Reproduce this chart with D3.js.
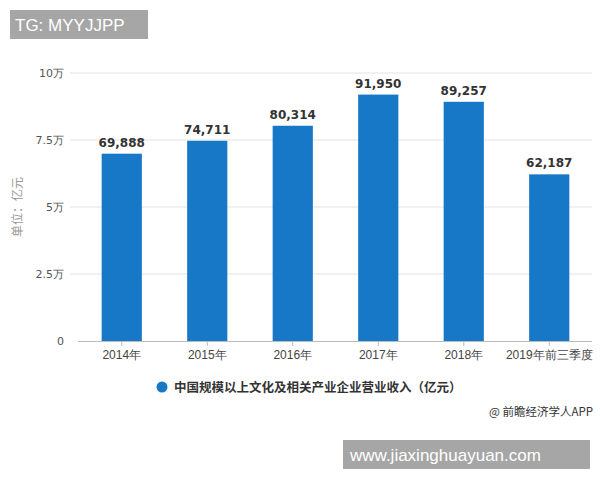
<!DOCTYPE html>
<html>
<head>
<meta charset="utf-8">
<script src="https://cdn.jsdelivr.net/npm/d3@7"></script>
<style>
  body { margin: 0; background: #fff; }
  svg { display: block; font-family: "Noto Sans CJK SC", "Noto Sans", sans-serif; }
</style>
</head>
<body>
<svg width="600" height="480"></svg>
<script>
var years = ['2014年', '2015年', '2016年', '2017年', '2018年', '2019年前三季度'];
var revenue = [69888, 74711, 80314, 91950, 89257, 62187];
var yTicks = [0, 25000, 50000, 75000, 100000];
var yTickLabels = ['0', '2.5万', '5万', '7.5万', '10万'];
var seriesName = '中国规模以上文化及相关产业企业营业收入（亿元）';

var svg = d3.select('svg');

var scaleX = d3.scaleBand().domain(years).range([79, 592]).paddingInner(0.53).paddingOuter(0.265);
var scaleY = d3.scaleLinear().domain([0, 100000]).range([341, 73]);

// grid lines
svg.append('g')
    .selectAll('line')
    .data(yTicks.slice(1))
    .enter()
    .append('line')
    .attr('x1', 70)
    .attr('x2', 592)
    .attr('y1', function(d){ return scaleY(d); })
    .attr('y2', function(d){ return scaleY(d); })
    .attr('stroke', '#e3e3e3')
    .attr('stroke-width', 1);

// y axis labels
var yAxis = svg.append('g')
    .attr('transform', 'translate(70,0)')
    .call(d3.axisLeft(scaleY).tickValues(yTicks).tickSize(0).tickPadding(6)
        .tickFormat(function(d, i){ return yTickLabels[i]; }));
yAxis.select('.domain').remove();
yAxis.selectAll('text')
    .attr('font-size', 11)
    .attr('fill', '#555')
    .attr('font-family', '"DejaVu Sans", sans-serif');

// bars
svg.selectAll('.bar')
    .data(revenue)
    .enter()
    .append('rect')
    .attr('class', 'bar')
    .attr('x', function(d, i){ return scaleX(years[i]); })
    .attr('y', function(d){ return scaleY(d); })
    .attr('width', scaleX.bandwidth())
    .attr('height', function(d){ return scaleY(0) - scaleY(d); })
    .attr('fill', '#1878c8');

// value labels
svg.selectAll('.val')
    .data(revenue)
    .enter()
    .append('text')
    .attr('class', 'val')
    .attr('x', function(d, i){ return scaleX(years[i]) + scaleX.bandwidth() / 2; })
    .attr('y', function(d){ return scaleY(d) - 7; })
    .attr('text-anchor', 'middle')
    .attr('font-size', 12)
    .attr('font-weight', 'bold')
    .attr('fill', '#333')
    .attr('font-family', '"DejaVu Sans", sans-serif')
    .text(function(d){ return d3.format(',')(d); });

// x axis
var xAxis = svg.append('g')
    .attr('transform', 'translate(0,' + scaleY(0) + ')')
    .call(d3.axisBottom(scaleX).tickSizeInner(5).tickSizeOuter(0).tickPadding(4));
xAxis.select('.domain')
    .attr('d', 'M78,0.5H592')
    .attr('stroke', '#bbb');
xAxis.selectAll('.tick line').attr('stroke', '#bbb');
xAxis.selectAll('text')
    .attr('font-size', 12)
    .attr('fill', '#444');

// y axis title
svg.append('text')
    .text('单位：亿元')
    .attr('transform', 'translate(22,207)rotate(-90)')
    .attr('text-anchor', 'middle')
    .attr('font-size', 12)
    .attr('fill', '#999');

// legend
svg.append('circle')
    .attr('cx', 162)
    .attr('cy', 387)
    .attr('r', 5.5)
    .attr('fill', '#1878c8');

svg.append('text')
    .text(seriesName)
    .attr('x', 174)
    .attr('y', 391.5)
    .attr('font-size', 12.5)
    .attr('font-weight', 'bold')
    .attr('fill', '#333');

// source
svg.append('text')
    .text('@ 前瞻经济学人APP')
    .attr('x', 593)
    .attr('y', 416)
    .attr('text-anchor', 'end')
    .attr('font-size', 11.5)
    .attr('fill', '#333');

// watermark boxes
svg.append('rect')
    .attr('x', 10).attr('y', 10).attr('width', 138).attr('height', 29)
    .attr('fill', '#a6a6a6');
svg.append('text')
    .text('TG: MYYJJPP')
    .attr('x', 15).attr('y', 31)
    .attr('font-size', 17)
    .attr('fill', '#fff')
    .attr('font-family', '"Liberation Sans", Arial, sans-serif');

svg.append('rect')
    .attr('x', 343).attr('y', 440).attr('width', 247).attr('height', 29)
    .attr('fill', '#a6a6a6');
svg.append('text')
    .text('www.jiaxinghuayuan.com')
    .attr('x', 350).attr('y', 461)
    .attr('font-size', 17)
    .attr('fill', '#fff')
    .attr('font-family', '"Liberation Sans", Arial, sans-serif');
</script>
</body>
</html>
